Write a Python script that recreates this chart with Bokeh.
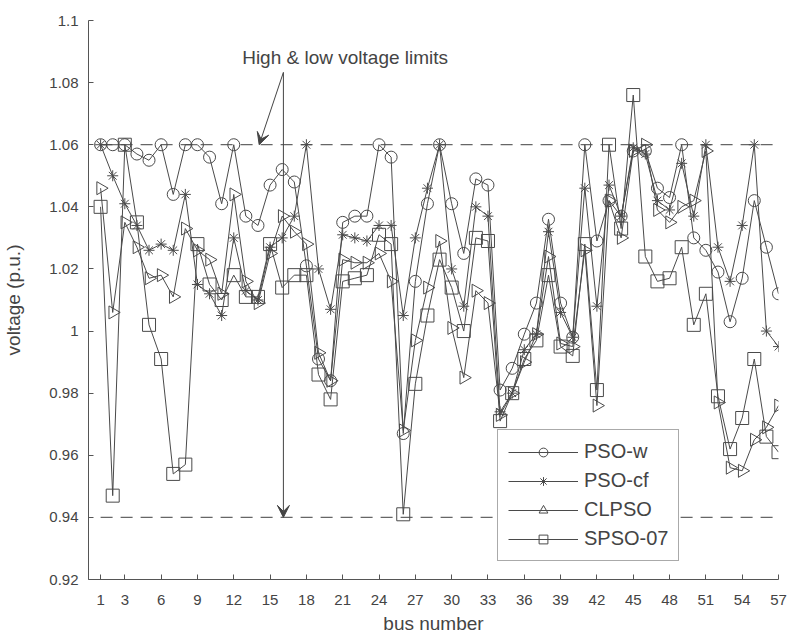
from bokeh.plotting import figure
from bokeh.models import (Range1d, FixedTicker, NumeralTickFormatter, Arrow,
                          VeeHead, Label, Legend, LegendItem, ColumnDataSource)
from bokeh.embed import file_html
from bokeh.resources import INLINE
import math

# ---------------- data ----------------
bus = list(range(1, 58))

pso_w = [1.060, 1.060, 1.060, 1.057, 1.055, 1.060, 1.044, 1.060, 1.060, 1.056,
         1.041, 1.060, 1.037, 1.034, 1.047, 1.052, 1.048, 1.021, 0.991, 0.984,
         1.035, 1.037, 1.037, 1.060, 1.056, 0.967, 1.016, 1.041, 1.060, 1.041,
         1.025, 1.049, 1.047, 0.981, 0.988, 0.999, 1.009, 1.036, 1.009, 0.998,
         1.060, 1.029, 1.042, 1.037, 1.058, 1.058, 1.046, 1.043, 1.060, 1.030,
         1.026, 1.019, 1.003, 1.017, 1.042, 1.027, 1.012]

pso_cf = [1.060, 1.050, 1.041, 1.034, 1.026, 1.028, 1.026, 1.044, 1.015, 1.012,
          1.005, 1.030, 1.013, 1.010, 1.027, 1.030, 1.037, 1.060, 1.020, 1.007,
          1.031, 1.030, 1.029, 1.034, 1.034, 1.005, 1.030, 1.046, 1.060, 1.020,
          1.008, 1.040, 1.037, 0.974, 0.980, 0.994, 0.999, 1.032, 1.006, 0.998,
          1.046, 1.008, 1.047, 1.037, 1.059, 1.057, 1.042, 1.039, 1.054, 1.037,
          1.060, 1.027, 1.016, 1.034, 1.060, 1.000, 0.995]

clpso = [1.046, 1.006, 1.035, 1.027, 1.017, 1.018, 1.011, 1.033, 1.026, 1.023,
         1.012, 1.044, 1.016, 1.009, 1.025, 1.037, 1.032, 1.028, 0.993, 0.984,
         1.023, 1.022, 1.022, 1.025, 1.016, 0.968, 0.997, 1.014, 1.029, 1.001,
         0.985, 1.013, 1.009, 0.973, 0.980, 0.990, 0.999, 1.024, 0.996, 0.995,
         1.026, 0.976, 1.042, 1.030, 1.058, 1.060, 1.039, 1.035, 1.040, 1.042,
         1.058, 0.977, 0.956, 0.955, 0.965, 0.969, 0.976]

spso07 = [1.040, 0.947, 1.060, 1.035, 1.002, 0.991, 0.954, 0.957, 1.028, 1.015,
          1.010, 1.018, 1.011, 1.011, 1.028, 1.014, 1.018, 1.018, 0.986, 0.978,
          1.016, 1.017, 1.018, 1.031, 1.028, 0.941, 0.983, 1.005, 1.023, 1.014,
          1.000, 1.030, 1.029, 0.971, 0.980, 0.991, 0.997, 1.018, 0.995, 0.992,
          1.028, 0.981, 1.060, 1.033, 1.076, 1.024, 1.016, 1.017, 1.027, 1.002,
          1.012, 0.979, 0.962, 0.972, 0.991, 0.966, 0.961]

x_ticks = [1, 3, 6, 9, 12, 15, 18, 21, 24, 27, 30, 33, 36, 39, 42, 45, 48, 51, 54, 57]
y_ticks = [0.92, 0.94, 0.96, 0.98, 1.0, 1.02, 1.04, 1.06, 1.08, 1.1]
v_high, v_low = 1.06, 0.94
series_names = ["PSO-w", "PSO-cf", "CLPSO", "SPSO-07"]

# ---------------- figure ----------------
FONT = "Liberation Sans"
INK = "#4a4a4a"
TXT = "#444444"

p = figure(width=789, height=638, output_backend="svg", toolbar_location=None,
           x_range=Range1d(0, 57), y_range=Range1d(0.92, 1.1),
           min_border_left=88, min_border_right=11, min_border_top=20,
           min_border_bottom=59)
p.outline_line_color = None
p.xgrid.visible = False
p.ygrid.visible = False
p.background_fill_color = "white"
p.border_fill_color = "white"

for ax in (p.xaxis[0], p.yaxis[0]):
    ax.axis_line_color = "#555555"
    ax.major_tick_line_color = "#555555"
    ax.minor_tick_line_color = None
    ax.major_tick_in = 5
    ax.major_tick_out = 0
    ax.major_label_text_font = FONT
    ax.major_label_text_font_size = "15px"
    ax.major_label_text_color = TXT
    ax.axis_label_text_font = FONT
    ax.axis_label_text_font_size = "19px"
    ax.axis_label_text_font_style = "normal"
    ax.axis_label_text_color = TXT

p.xaxis.ticker = FixedTicker(ticks=x_ticks)
p.yaxis.ticker = FixedTicker(ticks=y_ticks)
p.yaxis.formatter = NumeralTickFormatter(format="0.[00]")
p.xaxis.axis_label = "bus number"
p.yaxis.axis_label = "voltage (p.u.)"
p.xaxis.major_label_standoff = 15
p.yaxis.major_label_standoff = 10
p.xaxis.axis_label_standoff = 5
p.yaxis.axis_label_standoff = 22

# limit lines
src_lim = ColumnDataSource(dict(x=[1, 57], hi=[v_high, v_high], lo=[v_low, v_low]))
p.line("x", "hi", source=src_lim, line_color="#666666", line_width=1.2, line_dash="12 8")
p.line("x", "lo", source=src_lim, line_color="#666666", line_width=1.2, line_dash="12 8")

# series
src = ColumnDataSource(dict(bus=bus, pso_w=pso_w, pso_cf=pso_cf, clpso=clpso, spso07=spso07))
items = []
specs = [("pso_w", "circle", 12, 0.0),
         ("pso_cf", "asterisk", 11, 0.0),
         ("clpso", "triangle", 13, -math.pi / 2),
         ("spso07", "square", 13, 0.0)]
for (col, marker, size, ang), name in zip(specs, series_names):
    lr = p.line("bus", col, source=src, line_color=INK, line_width=1)
    sr = p.scatter("bus", col, source=src, marker=marker, size=size, angle=ang,
                   fill_color=None, line_color=INK, line_width=1)
    items.append(LegendItem(label=name, renderers=[lr, sr]))

legend = Legend(items=items, location=(409, 18), orientation="vertical",
                glyph_width=70, glyph_height=22, label_height=22, spacing=6,
                padding=10, margin=0, label_standoff=6, label_width=84,
                label_text_font=FONT, label_text_font_size="20px",
                label_text_color=TXT,
                border_line_color="#555555", border_line_width=1,
                background_fill_color="white", background_fill_alpha=1.0)
p.add_layout(legend)

# annotation
head = dict(size=12, fill_color=TXT, line_color=TXT)
p.add_layout(Arrow(end=VeeHead(**head), x_start=16.1, y_start=1.0833,
                   x_end=14.1, y_end=1.0600, line_color=TXT, line_width=1))
p.add_layout(Arrow(end=VeeHead(**head), x_start=16.1, y_start=1.0833,
                   x_end=16.1, y_end=0.9400, line_color=TXT, line_width=1))
p.add_layout(Label(x=21.2, y=1.0882, text="High & low voltage limits",
                   text_font=FONT, text_font_size="19px", text_color=TXT,
                   text_align="center", text_baseline="middle"))

open("out.html", "w").write(file_html(p, INLINE))
